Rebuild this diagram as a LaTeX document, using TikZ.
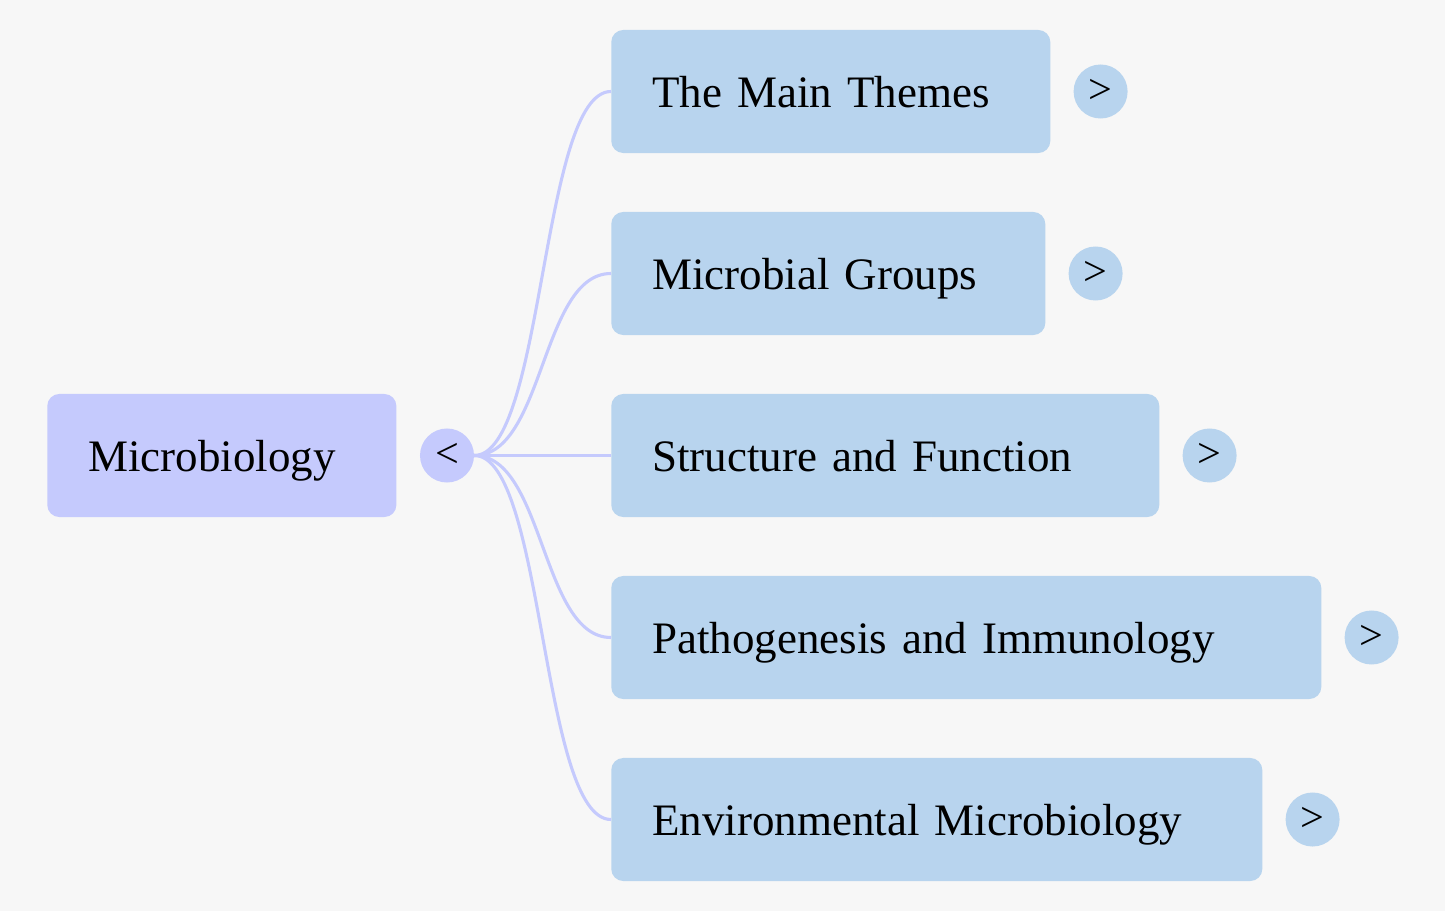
\documentclass[tikz,border=0pt]{standalone}
\usepackage{fontspec}
\setmainfont{Liberation Serif}
\definecolor{bgcol}{HTML}{F7F7F7}
\definecolor{rootcol}{HTML}{C5CAFD}
\definecolor{boxcol}{HTML}{B8D4EE}
\tikzset{
  topic/.style={rounded corners=0.3cm, minimum height=3.075cm, inner ysep=0pt, inner xsep=1.025cm,
    text depth=0pt, font=\fontsize{32}{36}\selectfont, anchor=west, align=left},
  knob/.style={circle, minimum size=1.35cm, inner sep=0pt, fill=boxcol,
    font=\fontsize{30}{32}\selectfont},
  link/.style={rootcol, line width=2.2pt}
}
\begin{document}
\begin{tikzpicture}[x=0.025cm,y=-0.025cm]
  \fill[bgcol] (0,0) rectangle (1445,911);
  \useasboundingbox (0,0) rectangle (1445,911);
  % root
  \node[topic, fill=rootcol, text width=6.675cm] (root) at (47,455.5) {Microbiology};
  \node[knob, fill=rootcol] (hub) at (447,455.5) {<};
  % children
  \foreach \name/\yy/\bw/\txt in {c1/91.5/439/The Main Themes,
      c2/273.5/434/Microbial Groups,
      c3/455.5/548/Structure and Function,
      c4/637.5/710/Pathogenesis and Immunology,
      c5/819.5/651/Environmental Microbiology}{
    \pgfmathsetlengthmacro{\tw}{(\bw-82)*0.025cm}
    \node[topic, fill=boxcol, text width=\tw] (\name) at (611,\yy) {\txt};
    \node[knob] (k\name) at ([xshift=1.25cm]\name.east) {>};
  }
  % connectors
  \foreach \name in {c1,c2,c3,c4,c5}
    \draw[link] (hub.east) .. controls +(70,0) and +(-70,0) .. (\name.west);
\end{tikzpicture}
\end{document}
